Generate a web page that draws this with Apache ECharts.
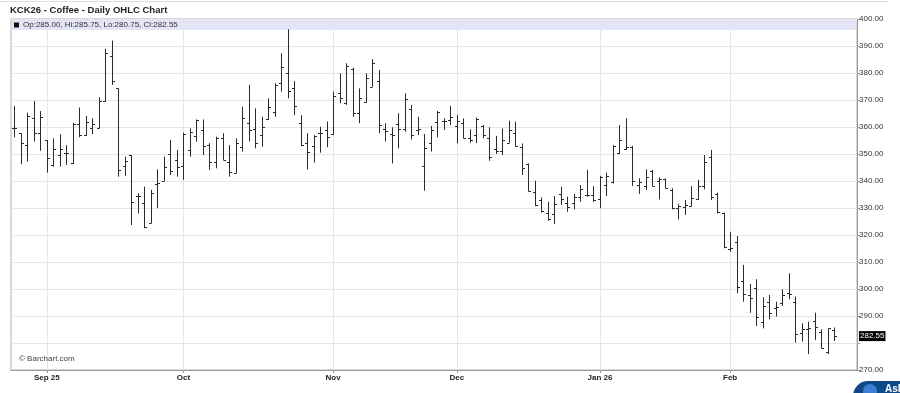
<!DOCTYPE html>
<html><head><meta charset="utf-8">
<script src="https://cdn.jsdelivr.net/npm/echarts@6/dist/echarts.min.js"></script>
<style>html,body{margin:0;padding:0;background:#fff}#c{width:900px;height:393px}</style>
</head><body><div id="c"></div>
<script>
const dates = [
'2025-08-25','2025-08-26','2025-08-27','2025-08-28','2025-08-29',
'2025-09-02','2025-09-03','2025-09-04','2025-09-05','2025-09-08','2025-09-09','2025-09-10','2025-09-11','2025-09-12',
'2025-09-15','2025-09-16','2025-09-17','2025-09-18','2025-09-19','2025-09-22','2025-09-23','2025-09-24','2025-09-25','2025-09-26','2025-09-29','2025-09-30',
'2025-10-01','2025-10-02','2025-10-03','2025-10-06','2025-10-07','2025-10-08','2025-10-09','2025-10-10','2025-10-13','2025-10-14','2025-10-15','2025-10-16','2025-10-17',
'2025-10-20','2025-10-21','2025-10-22','2025-10-23','2025-10-24','2025-10-27','2025-10-28','2025-10-29','2025-10-30','2025-10-31',
'2025-11-03','2025-11-04','2025-11-05','2025-11-06','2025-11-07','2025-11-10','2025-11-11','2025-11-12','2025-11-13','2025-11-14',
'2025-11-17','2025-11-18','2025-11-19','2025-11-20','2025-11-21','2025-11-24','2025-11-25','2025-11-26','2025-11-28',
'2025-12-01','2025-12-02','2025-12-03','2025-12-04','2025-12-05','2025-12-08','2025-12-09','2025-12-10','2025-12-11','2025-12-12',
'2025-12-15','2025-12-16','2025-12-17','2025-12-18','2025-12-19','2025-12-22','2025-12-23','2025-12-24','2025-12-26','2025-12-29','2025-12-30','2025-12-31',
'2026-01-02','2026-01-05','2026-01-06','2026-01-07','2026-01-08','2026-01-09','2026-01-12','2026-01-13','2026-01-14','2026-01-15','2026-01-16',
'2026-01-20','2026-01-21','2026-01-22','2026-01-23','2026-01-26','2026-01-27','2026-01-28','2026-01-29','2026-01-30',
'2026-02-02','2026-02-03','2026-02-04','2026-02-05','2026-02-06','2026-02-09','2026-02-10','2026-02-11','2026-02-12','2026-02-13',
'2026-02-17','2026-02-18','2026-02-19','2026-02-20','2026-02-23','2026-02-24','2026-02-25'
];
// empty future sessions that keep the right-hand margin of the chart
const futureDates = ['2026-02-26','2026-02-27','2026-03-02'];

const opens = [
359.8,357.7,353.2,363.2,357.7,
355.2,345.9,349.6,350.2,346.8,361.0,356.9,359.8,359.8,369.6,386.3,374.3,345.6,349.6,334.4,331.7,324.6,338.8,340.0,350.0,347.8,
345.6,351.5,356.7,358.9,353.3,347.2,355.8,347.2,343.1,352.7,361.6,359.1,357.0,362.8,365.7,376.2,380.1,374.3,361.4,354.2,353.0,357.9,358.9,
357.4,372.5,368.8,381.4,365.1,369.4,374.9,377.2,359.1,357.3,361.1,359.3,366.5,358.9,345.5,354.2,362.0,362.4,362.6,
360.4,361.6,355.8,357.0,360.4,355.8,351.7,351.2,354.2,357.9,352.5,346.3,336.1,333.0,328.3,327.8,335.2,332.0,331.7,334.2,334.8,334.8,
333.2,338.5,339.8,350.2,351.7,352.7,338.5,338.1,343.8,340.1,340.6,336.7,329.9,330.5,330.7,333.2,338.1,349.0,335.2,328.0,
314.7,317.5,303.1,297.8,300.3,287.9,295.3,292.8,294.9,298.4,295.3,283.6,285.1,288.3,284.2,276.8,285.00
];
const highs = [
367.8,357.7,365.3,369.6,365.9,
355.2,355.8,357.3,353.3,361.6,367.2,364.1,363.2,371.0,388.9,392.0,374.3,349.0,349.6,335.4,337.9,336.7,344.3,349.0,355.2,351.5,
357.9,359.5,362.8,362.8,354.0,356.4,357.7,353.3,355.8,367.5,375.6,366.9,363.8,370.6,376.2,387.3,396.2,377.0,364.4,357.7,357.0,360.1,362.0,
373.1,379.9,383.6,382.0,374.3,379.9,385.1,381.1,361.4,359.9,365.1,372.5,368.2,363.8,357.4,360.4,365.9,363.2,367.8,
364.4,363.2,359.1,363.5,360.7,359.9,356.7,359.4,362.3,362.0,353.9,346.5,340.1,333.9,332.3,334.4,337.9,334.2,335.2,338.5,344.1,338.1,
341.9,343.1,353.3,360.7,363.2,353.0,341.0,344.3,344.1,341.4,341.0,337.3,331.5,333.0,338.1,340.4,349.6,351.5,335.7,328.3,
321.2,319.6,308.9,301.8,303.6,296.9,297.8,295.3,299.9,305.8,297.2,287.3,287.9,291.2,285.1,285.4,285.75
];
const lows = [
356.2,346.2,347.2,354.6,351.2,
343.1,345.3,345.3,346.0,346.3,356.2,356.7,357.4,359.5,369.4,375.6,341.6,341.9,323.7,328.0,322.5,324.3,329.9,340.0,342.2,341.6,
340.4,349.0,354.6,349.6,344.1,344.7,347.8,341.6,342.9,350.9,354.6,352.1,352.7,362.6,363.8,373.1,370.6,364.4,352.9,344.3,346.8,350.5,352.5,
357.0,368.8,368.2,363.8,361.4,369.0,374.9,357.7,354.6,346.5,352.1,358.3,355.4,357.0,336.4,350.9,356.2,358.9,360.7,
353.9,355.8,354.2,354.0,355.8,347.5,350.0,349.6,354.2,352.7,342.2,336.1,330.7,328.3,325.3,324.1,331.1,328.6,329.5,332.3,334.2,332.3,
329.9,334.4,339.1,350.0,351.5,338.1,335.2,336.7,338.1,333.2,337.3,329.5,325.8,327.4,330.7,333.0,336.9,333.0,328.0,315.1,
313.8,298.4,295.3,291.2,286.3,285.4,288.8,289.8,293.7,296.2,280.1,280.5,275.9,281.1,278.0,275.9,280.75
];
const closes = [
359.8,354.2,364.2,357.9,363.6,
348.6,351.7,351.7,350.5,361.0,357.0,362.0,361.0,369.6,387.5,377.2,344.1,347.4,332.4,334.4,323.1,335.7,339.1,345.3,343.7,345.3,
357.3,358.3,362.6,353.0,347.2,355.8,347.8,343.5,354.0,363.2,358.9,354.2,359.9,367.3,375.6,382.1,373.5,367.8,353.3,350.9,356.7,357.9,356.4,
371.5,370.6,382.6,365.1,370.6,378.0,383.8,360.7,358.6,357.0,359.3,370.2,357.0,359.3,352.1,358.9,365.7,362.4,363.8,
362.4,355.8,355.2,362.9,357.0,348.8,351.1,355.2,358.9,352.9,344.9,336.4,331.1,329.0,325.8,331.5,333.2,330.5,334.2,336.9,334.8,333.0,
341.4,342.0,353.0,355.2,352.5,340.1,339.8,341.6,338.1,340.6,337.3,329.9,330.7,331.1,333.6,338.1,347.2,334.2,328.6,315.4,
315.1,300.6,298.1,296.5,289.5,293.7,291.0,293.2,297.8,298.1,283.3,285.1,285.4,286.0,278.0,285.4,282.55
];
const monthLabels = {
  '2025-09-02': 'Sep 25', '2025-10-01': 'Oct', '2025-11-03': 'Nov',
  '2025-12-01': 'Dec', '2026-01-02': 'Jan 26', '2026-02-02': 'Feb'
};
const yMin = 270, yMax = 400, yStep = 10;

const categories = dates.concat(futureDates);
const ohlc = dates.map((d, i) => [i, opens[i], highs[i], lows[i], closes[i]]);
const n = dates.length;
const lastClose = closes[n - 1];
const isMonth = (idx, val) => monthLabels[val] !== undefined;
const FONT = '"Liberation Sans", Arial, sans-serif';

const chart = echarts.init(document.getElementById('c'), null, {renderer: 'canvas'});
const baseGraphic = [
  {type: 'line', z: 1, shape: {x1: 0, y1: 1.5, x2: 888, y2: 1.5}, style: {stroke: '#dcdcdc', lineWidth: 1}},
  {type: 'rect', left: 11.5, top: 19.5, z: 1, shape: {width: 845, height: 10.5}, style: {fill: '#e4e4f7'}},
  {type: 'rect', left: 14, top: 22.5, z: 3, shape: {width: 5, height: 5}, style: {fill: '#111'}},
  {type: 'text', left: 23, top: 21, z: 3, style: {
    text: 'Op:' + opens[n-1].toFixed(2) + ', Hi:' + highs[n-1].toFixed(2) + ', Lo:' + lows[n-1].toFixed(2) + ', Cl:' + closes[n-1].toFixed(2),
    font: '8px ' + FONT, fill: '#333'}},
  {type: 'text', left: 19, top: 355, z: 3, style: {text: '\u00A9 Barchart.com', font: '8px ' + FONT, fill: '#444'}},
  // chat widget peeking in at the bottom-right corner
  {type: 'rect', left: 853, top: 381, z: 5, shape: {width: 80, height: 30, r: 15}, style: {fill: '#0e4a8a'}},
  {type: 'circle', left: 863, top: 384, z: 6, shape: {r: 7}, style: {fill: '#3a7fd0'}},
  {type: 'text', left: 885, top: 384, z: 6, style: {text: 'Ask', font: 'bold 10px ' + FONT, fill: '#fff'}}
];
chart.setOption({
  animation: false,
  textStyle: {fontFamily: FONT},
  title: {
    text: 'KCK26 - Coffee - Daily OHLC Chart',
    left: 5, top: 0,
    textStyle: {fontSize: 9.5, fontWeight: 'bold', color: '#222', fontFamily: FONT}
  },
  grid: {left: 11, right: 43, top: 19, bottom: 23, show: true, borderColor: '#b0b0b0', borderWidth: 1},
  graphic: baseGraphic,
  xAxis: {
    type: 'category', data: categories, boundaryGap: true,
    axisLine: {lineStyle: {color: '#999'}},
    axisTick: {show: true, interval: isMonth, alignWithLabel: true, length: 3, lineStyle: {color: '#999'}},
    axisLabel: {interval: isMonth, formatter: v => monthLabels[v] || '', fontSize: 8, fontWeight: 'bold', color: '#222', margin: 4, fontFamily: FONT},
    splitLine: {show: true, interval: isMonth, alignWithLabel: true, lineStyle: {color: '#e6e6e6'}}
  },
  yAxis: {
    type: 'value', position: 'right', min: yMin, max: yMax, interval: yStep,
    axisLine: {show: true, lineStyle: {color: '#999'}},
    axisTick: {show: true, length: 3, lineStyle: {color: '#999'}},
    // the last-price tag hides the tick label it would overlap
    axisLabel: {formatter: v => (Math.abs(v - lastClose) < 4 ? '' : v.toFixed(2)), fontSize: 8, color: '#333', margin: 2, fontFamily: FONT},
    splitLine: {show: true, lineStyle: {color: '#e6e6e6'}}
  },
  series: [{
    type: 'custom', z: 2,
    encode: {x: 0, y: [1, 2, 3, 4]},
    data: ohlc,
    renderItem: function (params, api) {
      const i = api.value(0);
      const pO = api.coord([i, api.value(1)]);
      const pH = api.coord([i, api.value(2)]);
      const pL = api.coord([i, api.value(3)]);
      const pC = api.coord([i, api.value(4)]);
      const x = Math.round(pH[0]) + 0.5;
      const yo = Math.round(pO[1]) + 0.5, yc = Math.round(pC[1]) + 0.5;
      const st = {stroke: '#2a2a2a', lineWidth: 1};
      return {type: 'group', children: [
        {type: 'line', shape: {x1: x, y1: pH[1], x2: x, y2: pL[1]}, style: st},
        {type: 'line', shape: {x1: x - 2.5, y1: yo, x2: x, y2: yo}, style: st},
        {type: 'line', shape: {x1: x, y1: yc, x2: x + 2.5, y2: yc}, style: st}
      ]};
    }
  }]
});
// last-price tag on the price axis, placed through the y scale
const lastY = chart.convertToPixel({yAxisIndex: 0}, lastClose);
const axisX = chart.convertToPixel({xAxisIndex: 0}, categories[categories.length - 1]) + 3.25;
chart.setOption({graphic: baseGraphic.concat([
  {type: 'text', x: axisX + 2, y: lastY, z: 10, style: {
    text: lastClose.toFixed(2), font: '8px ' + FONT, fill: '#fff',
    backgroundColor: '#000', padding: [1, 1, 1, 1], verticalAlign: 'middle', align: 'left'}}
])});
</script></body></html>
